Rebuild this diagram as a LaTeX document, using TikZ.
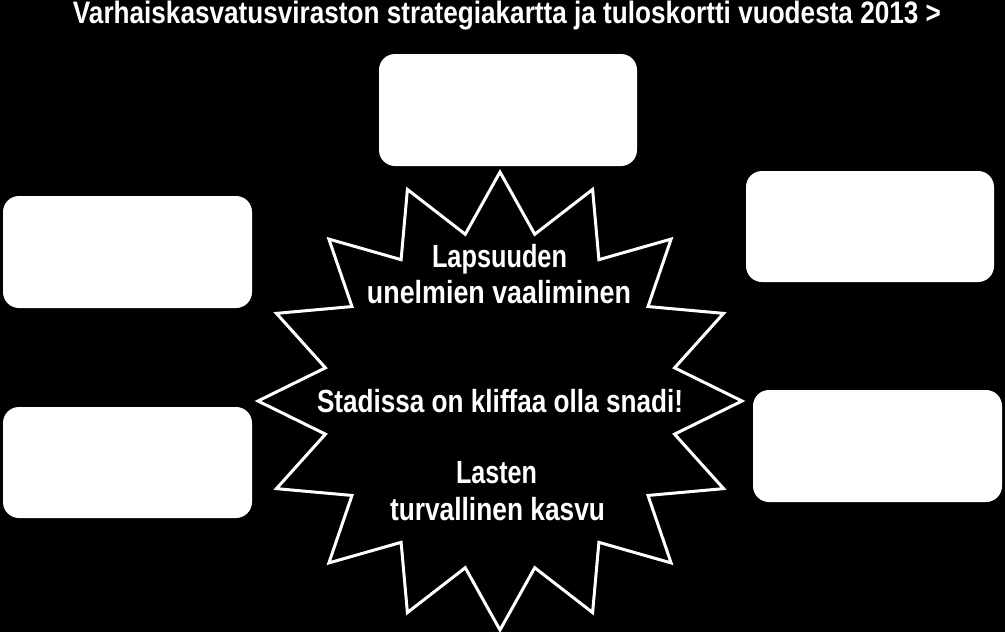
\documentclass[tikz,border=0pt]{standalone}
\usepackage{fontspec}
\usepackage{graphicx}
\setmainfont{Liberation Sans}
\newcommand{\fitw}[3]{\resizebox{#1pt}{\height}{\fontsize{#2}{#2}\selectfont\bfseries #3}}
\begin{document}
\begin{tikzpicture}[x=1pt,y=-1pt,
  box/.style={fill=white, draw=none, rounded corners=16pt, inner sep=0pt},
  txt/.style={text=white, inner sep=0pt, anchor=base},
  starline/.style={draw=white, line width=3pt, fill=black, line join=miter}]
\fill[black] (0,0) rectangle (1005,632);
\useasboundingbox (0,0) rectangle (1005,632);
% title
\node[txt] (title) at (507,23) {\fitw{868}{31}{Varhaiskasvatusviraston strategiakartta ja tuloskortti vuodesta 2013 >}};
% boxes
\node[box, minimum width=258pt, minimum height=112pt] (btop) at (508,110) {};
\node[box, minimum width=249pt, minimum height=112pt] (blt) at (127.5,252) {};
\node[box, minimum width=249pt, minimum height=111pt] (blb) at (127.5,462.5) {};
\node[box, minimum width=248pt, minimum height=111pt] (brt) at (870,226.5) {};
\node[box, minimum width=249pt, minimum height=112pt] (brb) at (877.5,446) {};
% star
\draw[starline] plot[samples at={0,...,31}, variable=\k]
  ({500+ifthenelse(mod(\k,2)==0,242,178)*cos(90+11.25*\k)},
   {401-ifthenelse(mod(\k,2)==0,229,170)*sin(90+11.25*\k)}) -- cycle;
% star texts
\node[txt] (l1) at (499.5,267) {\fitw{135}{32}{Lapsuuden}};
\node[txt] (l2) at (499,303) {\fitw{264}{32}{unelmien vaaliminen}};
\node[txt] (l3) at (500,412) {\fitw{366}{32}{Stadissa on kliffaa olla snadi!}};
\node[txt] (l4) at (496.5,483) {\fitw{81}{32}{Lasten}};
\node[txt] (l5) at (497.5,520) {\fitw{215}{32}{turvallinen kasvu}};
\end{tikzpicture}
\end{document}
